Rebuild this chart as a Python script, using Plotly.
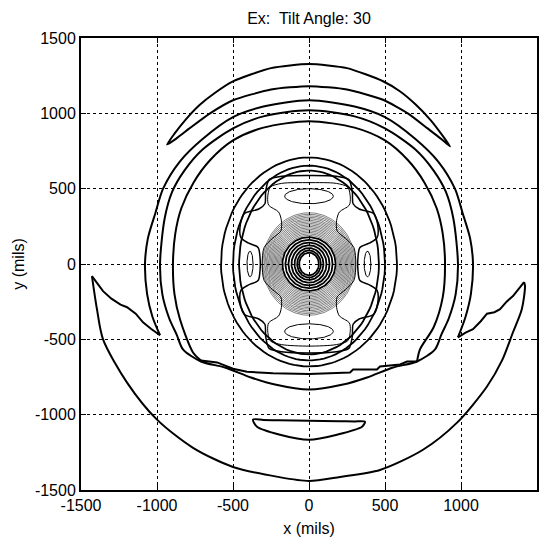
import numpy as np
import plotly.graph_objects as go

# ---- contour lines (x, y in mils) ----
crescent_x = [-934, -885, -810, -720, -620, -500, -250, 0, 250, 487, 600, 700, 800, 880, 928,
              870, 780, 650, 487, 250, 0, -250, -500, -651, -780, -870, -934]
crescent_y = [793, 865, 960, 1055, 1135, 1212, 1300, 1327, 1300, 1213, 1145, 1060, 955, 850, 780,
              830, 900, 1000, 1090, 1158, 1180, 1158, 1087, 1000, 905, 835, 793]

# big outer loop, in four pieces: upper arc, right hook, lower arc, left hook
outer_top_x = [-980, -1030, -1065, -1079, -1060, -1010, -960, -850, -700, -500, -300, 0,
               300, 500, 700, 850, 960, 1010, 1060, 1079, 1065, 1030, 980]
outer_top_y = [-473, -350, -200, 0, 170, 340, 500, 680, 830, 975, 1045, 1087,
               1045, 975, 830, 680, 500, 340, 170, 0, -200, -350, -487]
hook_r_x = [980, 1030, 1079, 1130, 1171, 1220, 1257, 1300, 1342, 1380, 1415]
hook_r_y = [-487, -455, -433, -380, -330, -320, -300, -250, -213, -165, -120]
outer_bot_x = [1415, 1421, 1400, 1342, 1270, 1171, 974, 750, 467, 204, 0,
               -204, -500, -763, -1000, -1197, -1355, -1395, -1428]
outer_bot_y = [-120, -147, -300, -453, -640, -813, -1053, -1233, -1367, -1413, -1440,
               -1413, -1347, -1220, -1033, -787, -500, -300, -80]
hook_l_x = [-1428, -1400, -1355, -1300, -1240, -1197, -1140, -1092, -1040, -980]
hook_l_y = [-80, -120, -180, -230, -270, -287, -330, -387, -430, -473]

arc4_x = [0, 300, 500, 700, 820, 900, 950, 980, 965, 920, 870, 829, 711, 553, 382, 224, 0,
          -224, -382, -553, -711, -829, -870, -920, -965, -980, -950, -900, -820, -700, -500, -300, 0]
arc4_y = [1020, 980, 900, 760, 620, 480, 300, 0, -200, -360, -470, -567, -647, -687, -753, -800, -833,
          -800, -753, -687, -647, -567, -470, -360, -200, 0, 300, 480, 620, 760, 900, 980, 1020]

arc5_top_x = [-711, -763, -849, -885, -895, -880, -840, -760, -650, -500, -300, 0,
              300, 500, 650, 760, 840, 880, 895, 880, 820, 730, 711]
arc5_top_y = [-640, -587, -367, -200, 0, 200, 370, 540, 690, 820, 905, 947,
              905, 820, 690, 540, 370, 200, 0, -220, -420, -567, -647]
arc5_bot_x = [711, 645, 599, 467, 447, 290, 270, 0, -237, -408, -500, -605, -711]
arc5_bot_y = [-647, -647, -667, -680, -700, -700, -720, -730, -725, -715, -695, -653, -640]

ring_a = [579, 500, 460]
ring_b_top = [707, 653, 620]
ring_b_bot = [680, 640, 600]

wout_x = [0, 180, 262, 285, 290, 330, 425, 452, 448, 400, 335, 322, 322, 335, 400, 448, 452, 425, 330, 290, 285, 262, 180, 0,
          -180, -262, -285, -290, -330, -425, -452, -448, -400, -335, -322, -322, -335, -400, -448, -452, -425, -330, -290, -285, -262, -180, 0]
wout_y = [587, 582, 560, 480, 400, 365, 335, 260, 175, 140, 110, 40, -40, -110, -140, -175, -260, -335, -365, -400, -480, -560, -582, -590,
          -582, -560, -480, -400, -365, -335, -260, -175, -140, -110, -40, 40, 110, 140, 175, 260, 335, 365, 400, 480, 560, 582, 587]

win_x = [0, 180, 255, 272, 265, 200, 182, 185, 240, 295, 308, 295, 240, 185, 182, 200, 265, 272, 255, 180, 0,
         -180, -255, -272, -265, -200, -182, -185, -240, -295, -308, -295, -240, -185, -182, -200, -265, -272, -255, -180, 0]
win_y = [540, 535, 510, 440, 390, 345, 290, 220, 170, 110, 0, -110, -170, -220, -290, -345, -390, -440, -510, -535, -545,
         -535, -510, -440, -390, -345, -290, -220, -170, -110, 0, 110, 170, 220, 290, 345, 390, 440, 510, 535, 540]

blob_cx = [0, 0, -388, 385]
blob_cy = [450, -447, 0, 0]
blob_a = [160, 160, 20, 22]
blob_b = [50, 50, 85, 85]

lens_x = [-368, -300, -200, 0, 200, 300, 368, 349, 184, 0, -191, -342, -368]
lens_y = [-1033, -1035, -1037, -1040, -1043, -1045, -1047, -1080, -1133, -1167, -1133, -1080, -1033]

thin_a = [305, 297, 289, 281, 273, 265, 257, 249, 241, 233, 225, 217, 209, 201, 193, 185]
thin_b = [340, 330, 320, 310, 300, 290, 280, 270, 260, 250, 240, 230, 220, 210, 200, 190]
thick_a = [175, 155, 135, 115, 95, 78, 65]
thick_b = [178, 160, 142, 124, 106, 90, 75]

fig = go.Figure()
black = "black"

def add_line(x, y, w, shape="linear", smoothing=0.8):
    fig.add_trace(go.Scatter(x=x, y=y, mode="lines",
                             line=dict(color=black, width=w, shape=shape, smoothing=smoothing),
                             hoverinfo="skip", showlegend=False))

def ellipse(cx, cy, a, bt, bb, n=120):
    t = np.linspace(0, 2 * np.pi, n)
    s = np.sin(t)
    b = np.where(s >= 0, bt, bb)
    return cx + a * np.cos(t), cy + b * s

add_line(crescent_x, crescent_y, 2, "spline", 0.6)
add_line(outer_top_x, outer_top_y, 2, "spline")
add_line(hook_r_x, hook_r_y, 2)
add_line(outer_bot_x, outer_bot_y, 2, "spline")
add_line(hook_l_x, hook_l_y, 2)
add_line(arc4_x, arc4_y, 2, "spline")
add_line(arc5_top_x, arc5_top_y, 2, "spline")
add_line(arc5_bot_x, arc5_bot_y, 2)
for a, bt, bb in zip(ring_a, ring_b_top, ring_b_bot):
    ex, ey = ellipse(0, 0, a, bt, bb)
    add_line(ex, ey, 1.8)
add_line(wout_x, wout_y, 1.5, "spline")
add_line(win_x, win_y, 1.0, "spline")
for cx, cy, a, b in zip(blob_cx, blob_cy, blob_a, blob_b):
    ex, ey = ellipse(cx, cy, a, b, b)
    add_line(ex, ey, 1.0)
add_line(lens_x, lens_y, 2, "spline")
for a, b in zip(thin_a, thin_b):
    ex, ey = ellipse(0, 0, a, b, b)
    add_line(ex, ey, 0.5)
for a, b in zip(thick_a, thick_b):
    ex, ey = ellipse(0, 0, a, b, b)
    add_line(ex, ey, 1.8)

ticks = [-1500, -1000, -500, 0, 500, 1000, 1500]
fnt = dict(family="Arial", size=16, color="black")
axis_common = dict(range=[-1500, 1500], tickvals=ticks, ticktext=[str(t) for t in ticks],
                   showgrid=True, gridcolor="black", griddash="dot", gridwidth=1,
                   zeroline=False, showline=True, linecolor="black", linewidth=2,
                   mirror="ticks", ticks="inside", ticklen=5, tickcolor="black",
                   tickfont=fnt)
fig.update_layout(
    width=552, height=547,
    margin=dict(l=81, r=15, t=38, b=57),
    paper_bgcolor="white", plot_bgcolor="white",
    title=dict(text="Ex:  Tilt Angle: 30", x=(81 + 228) / 552, xanchor="center",
               y=1 - 18 / 547, yanchor="middle", font=fnt),
    xaxis=dict(**axis_common, title=dict(text="x (mils)", standoff=10, font=fnt)),
    yaxis=dict(**axis_common, title=dict(text="y (mils)", standoff=6, font=fnt)),
)
fig.write_html("out.html")
